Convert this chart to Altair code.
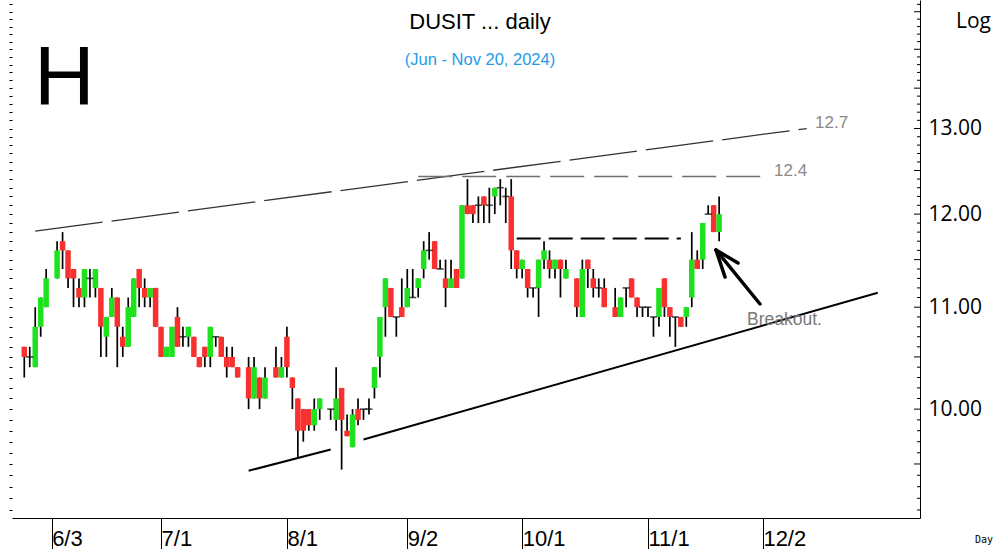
import altair as alt
import pandas as pd
import numpy as np

# ---------------- data ----------------
dates = ["2024-05-27","2024-05-28","2024-05-29","2024-05-30","2024-05-31",
         "2024-06-04","2024-06-05","2024-06-06","2024-06-07","2024-06-10","2024-06-11","2024-06-12","2024-06-13","2024-06-14",
         "2024-06-17","2024-06-18","2024-06-19","2024-06-20","2024-06-21","2024-06-24","2024-06-25","2024-06-26","2024-06-27","2024-06-28",
         "2024-07-01","2024-07-02","2024-07-03","2024-07-04","2024-07-05","2024-07-08","2024-07-09","2024-07-10","2024-07-11","2024-07-12",
         "2024-07-15","2024-07-16","2024-07-17","2024-07-18","2024-07-19","2024-07-23","2024-07-24","2024-07-25","2024-07-26",
         "2024-07-30","2024-07-31","2024-08-01","2024-08-02","2024-08-05","2024-08-06","2024-08-07","2024-08-08","2024-08-09",
         "2024-08-13","2024-08-14","2024-08-15","2024-08-16","2024-08-19","2024-08-20","2024-08-21","2024-08-22","2024-08-23",
         "2024-08-26","2024-08-27","2024-08-28","2024-08-29","2024-08-30","2024-09-02","2024-09-03","2024-09-04","2024-09-05","2024-09-06",
         "2024-09-09","2024-09-10","2024-09-11","2024-09-12","2024-09-13","2024-09-16","2024-09-17","2024-09-18","2024-09-19","2024-09-20",
         "2024-09-23","2024-09-24","2024-09-25","2024-09-26","2024-09-27","2024-09-30","2024-10-01","2024-10-02","2024-10-03","2024-10-04",
         "2024-10-07","2024-10-08","2024-10-09","2024-10-10","2024-10-11","2024-10-15","2024-10-16","2024-10-17","2024-10-18",
         "2024-10-21","2024-10-22","2024-10-24","2024-10-25","2024-10-28","2024-10-29","2024-10-30","2024-10-31","2024-11-01",
         "2024-11-04","2024-11-05","2024-11-06","2024-11-07","2024-11-08","2024-11-11","2024-11-12","2024-11-13","2024-11-14","2024-11-15",
         "2024-11-18","2024-11-19","2024-11-20"]

opens = [10.6,10.5,10.4,10.8,11.0,
         11.3,11.7,11.6,11.4,11.2,11.1,11.3,11.2,11.2,
         10.7,10.9,11.1,10.7,10.6,10.9,11.4,11.2,11.1,11.2,
         10.8,10.5,10.5,10.9,10.7,10.7,10.7,10.5,10.6,10.5,
         10.7,10.7,10.5,10.5,10.4,10.4,10.1,10.3,10.1,
         10.4,10.3,10.7,10.3,10.1,10.0,10.0,9.85,10.0,
         10.0,9.9,10.2,9.8,9.65,10.0,10.0,10.0,10.2,
         10.5,11.0,11.2,10.9,11.0,11.0,11.1,11.2,11.4,11.6,
         11.7,11.4,11.3,11.2,11.4,11.3,12.1,12.1,12.1,12.2,
         12.1,12.2,12.3,12.2,12.2,11.6,11.4,11.4,11.2,11.2,
         11.5,11.5,11.4,11.5,11.3,11.3,10.9,11.5,11.3,
         11.2,11.2,11.0,10.9,11.2,11.3,11.1,11.0,11.0,
         10.9,10.9,11.3,11.0,10.9,10.9,10.9,11.1,11.5,11.5,
         12.0,12.1,11.8]
highs = [10.6,10.6,11.0,11.1,11.4,
         11.7,11.8,11.6,11.4,11.3,11.4,11.4,11.4,11.2,
         10.9,11.2,11.1,10.8,11.1,11.3,11.4,11.3,11.2,11.2,
         10.8,10.6,10.8,11.0,10.8,10.8,10.7,10.5,10.6,10.8,
         10.7,10.7,10.6,10.6,10.4,10.5,10.5,10.3,10.4,
         10.6,10.5,10.8,10.3,10.1,10.0,10.0,10.1,10.1,
         10.0,10.4,10.2,9.95,10.0,10.1,10.0,10.1,10.4,
         10.9,11.3,11.2,10.9,11.3,11.4,11.4,11.3,11.7,11.8,
         11.7,11.5,11.5,11.5,11.4,12.1,12.4,12.1,12.2,12.2,
         12.3,12.3,12.4,12.3,12.4,11.6,11.5,11.4,11.2,11.5,
         11.7,11.6,11.5,11.5,11.5,11.3,11.5,11.5,11.4,
         11.3,11.3,11.2,11.1,11.2,11.3,11.1,11.0,11.0,
         10.9,11.2,11.3,11.0,10.9,10.9,11.0,11.8,11.6,11.9,
         12.1,12.1,12.2]
lows = [10.3,10.4,10.4,10.7,11.0,
        11.3,11.4,11.2,11.0,11.0,11.0,11.1,11.1,10.5,
        10.5,10.9,10.4,10.5,10.6,10.9,11.0,11.0,11.0,10.8,
        10.5,10.5,10.5,10.6,10.6,10.6,10.5,10.4,10.4,10.4,
        10.6,10.5,10.3,10.4,10.3,10.0,10.1,10.0,10.1,
        10.3,10.3,10.3,10.0,9.55,9.7,9.8,9.8,9.9,
        9.9,9.8,9.45,9.75,9.65,9.85,9.9,9.95,10.1,
        10.3,10.7,10.9,10.7,10.9,11.0,11.1,11.1,11.3,11.5,
        11.4,11.4,11.0,11.2,11.2,11.3,12.0,11.9,11.9,11.9,
        11.9,12.0,12.1,11.9,11.4,11.3,11.3,11.1,11.1,10.9,
        11.4,11.3,11.3,11.1,11.3,10.9,10.9,11.2,11.1,
        11.1,11.0,10.9,10.9,11.0,11.1,10.9,10.9,10.9,
        10.7,10.8,10.9,10.7,10.6,10.8,10.8,11.0,11.4,11.4,
        12.0,11.8,11.7]
closes = [10.5,10.5,10.8,11.1,11.3,
          11.6,11.6,11.3,11.3,11.1,11.4,11.3,11.4,10.8,
          10.9,11.1,10.8,10.6,11.0,11.3,11.2,11.1,11.2,10.8,
          10.5,10.6,10.8,10.6,10.7,10.8,10.5,10.4,10.5,10.8,
          10.7,10.5,10.4,10.4,10.3,10.1,10.4,10.1,10.3,
          10.3,10.4,10.4,10.2,9.8,9.8,9.85,10.0,10.1,
          10.0,10.1,9.9,9.75,9.95,9.9,10.0,10.0,10.4,
          10.9,11.3,10.9,10.9,10.9,11.2,11.1,11.3,11.6,11.6,
          11.4,11.4,11.2,11.3,11.2,12.1,12.0,12.0,12.1,12.1,
          12.1,12.3,12.3,12.2,11.6,11.4,11.5,11.2,11.2,11.5,
          11.6,11.4,11.5,11.4,11.4,11.0,11.4,11.4,11.2,
          11.2,11.0,10.9,11.1,11.2,11.1,11.0,11.0,11.0,
          10.9,11.2,11.0,10.9,10.9,10.8,11.0,11.5,11.4,11.9,
          12.0,11.8,12.0]

tick_dates = ["2024-06-03","2024-07-01","2024-08-01","2024-09-02","2024-10-01","2024-11-01","2024-12-02"]
tick_labels = ["6/3","7/1","8/1","9/2","10/1","11/1","12/2"]
price_labels = [10, 11, 12, 13]

# trend lines: (date, price) end points
upper_line_dates = ["2024-05-29", "2024-12-12"]
upper_line_prices = [11.81, 13.0]
flat_top_dates = ["2024-09-04", "2024-12-03"]
flat_top_prices = [12.43, 12.43]
neck_dates = ["2024-09-30", "2024-11-11"]
neck_prices = [11.73, 11.73]
low_line1_dates = ["2024-07-23", "2024-08-13"]
low_line1_prices = [9.44, 9.63]
low_line2_dates = ["2024-08-21", "2024-12-31"]
low_line2_prices = [9.72, 11.15]

# ---------------- derived tables ----------------
base = "2024-06-03"
def bidx(ds):
    return [int(np.busday_count(base, d)) if d >= base else -int(np.busday_count(d, base)) for d in ds]

df = pd.DataFrame({"date": dates, "i": bidx(dates), "open": opens, "high": highs,
                   "low": lows, "close": closes})
df["dir"] = np.where(df.close > df.open, "up", np.where(df.close < df.open, "down", "flat"))

tick_idx = bidx(tick_dates)
label_expr = " : ".join(f"datum.value == {v} ? ' {l}'" for v, l in zip(tick_idx, tick_labels)) + " : ''"

price_ticks = [round(9.1 + 0.1 * k, 1) for k in range(56)]
ticks_df = pd.DataFrame({"p": price_ticks})
ticks_df["major"] = [bool(abs(p * 2 - round(p * 2)) < 1e-6) for p in price_ticks]

W, H = 908, 518
xs = alt.Scale(domain=[-6.33, 157.8], nice=False, zero=False)
ys = alt.Scale(type="log", domain=[9.032, 14.66], nice=False, zero=False)

x_axis = alt.Axis(values=tick_idx, labelExpr=label_expr, grid=False, title=None,
                  tickSize=31, tickColor="black", domainColor="black",
                  labelAlign="left", labelBaseline="middle", labelPadding=-11,
                  labelFontSize=22, labelFont="Liberation Sans",
                  labelColor="black", labelBound=False, labelFlush=False,
                  labelOverlap=False)
X = alt.X("i:Q", scale=xs, axis=x_axis)

Yleft = alt.Y("low:Q", scale=ys,
              axis=alt.Axis(orient="left", values=price_ticks, labels=False, domain=False,
                            ticks=True, tickSize=3, tickColor="black", grid=False, title=None))

wick = alt.Chart(df).mark_rule(color="black", strokeWidth=1.7).encode(
    x=X, y=Yleft, y2="high:Q")

body = alt.Chart(df).transform_filter("datum.dir != 'flat'").mark_bar(width=5.5).encode(
    x=X,
    y=alt.Y("open:Q", scale=ys,
            axis=alt.Axis(orient="right", values=price_labels, format=".2f", grid=False,
                          title=None, ticks=False, domainColor="black", labelPadding=8,
                          labelFontSize=21, labelColor="black", labelFont="Open Sans")),
    y2="close:Q",
    color=alt.Color("dir:N", scale=alt.Scale(domain=["up", "down"], range=["#1DE21D", "#F83030"]),
                    legend=None))

doji = alt.Chart(df).transform_filter("datum.dir == 'flat'").mark_tick(
    color="black", thickness=1.6, size=7, orient="horizontal").encode(
    x=X, y=alt.Y("close:Q", scale=ys, axis=None))

rticks_minor = alt.Chart(ticks_df).transform_filter("!datum.major").mark_rule(
    color="black", strokeWidth=1).encode(
    y=alt.Y("p:Q", scale=ys, axis=None), x=alt.value(W - 3), x2=alt.value(W))
rticks_major = alt.Chart(ticks_df).transform_filter("datum.major").mark_rule(
    color="black", strokeWidth=1).encode(
    y=alt.Y("p:Q", scale=ys, axis=None), x=alt.value(W - 6), x2=alt.value(W))

def seg(ds, ps, **kw):
    d = pd.DataFrame({"i": bidx(ds), "p": ps})
    return alt.Chart(d).mark_line(**kw).encode(x=X, y=alt.Y("p:Q", scale=ys, axis=None))

upper = seg(upper_line_dates, upper_line_prices, color="#333333", strokeWidth=1.3, strokeDash=[68, 9])
flat = seg(flat_top_dates, flat_top_prices, color="#6e6e6e", strokeWidth=1.5, strokeDash=[34, 10])
neck = seg(neck_dates, neck_prices, color="black", strokeWidth=2, strokeDash=[24, 8])
low1 = seg(low_line1_dates, low_line1_prices, color="black", strokeWidth=2)
low2 = seg(low_line2_dates, low_line2_prices, color="black", strokeWidth=2)

def txt(s, x, y, size, color="black", font="Liberation Sans", align="left", baseline="middle"):
    return alt.Chart(pd.DataFrame({"t": [s]})).mark_text(
        align=align, baseline=baseline, fontSize=size, color=color, font=font).encode(
        text="t:N", x=alt.value(x), y=alt.value(y))

texts = [
    txt("DUSIT ... daily", 468, 22, 22, align="center"),
    txt("(Jun - Nov 20, 2024)", 468, 60, 16.5, color="#1E9BE9", align="center"),
    txt("H", 22, 105, 84, baseline="alphabetic"),
    txt("Log", 944, 22, 21, font="Open Sans"),
    txt("Day", 963, 540, 10, font="DejaVu Sans Mono"),
    txt("12.7", 803, 123, 17, color="#8a8a8a"),
    txt("12.4", 762, 171, 17, color="#8a8a8a"),
    txt("Breakout.", 735, 320, 17.5, color="#7a7a7a"),
]

def arrow_line(x1, y1, x2, y2):
    return alt.Chart(pd.DataFrame({"a": [0]})).mark_rule(
        color="black", strokeWidth=3.5, strokeCap="round").encode(
        x=alt.value(x1), y=alt.value(y1), x2=alt.value(x2), y2=alt.value(y2))

arrow = [arrow_line(704, 250, 748, 304), arrow_line(704, 250, 726, 263), arrow_line(704, 250, 713, 277)]

chart = alt.layer(wick, body, doji, rticks_minor, rticks_major, upper, flat, neck, low1, low2,
                  *arrow, *texts).resolve_scale(y="shared").properties(
    width=W, height=H,
    autosize=alt.AutoSizeParams(type="none"),
    padding={"left": 12, "top": 0, "right": 74, "bottom": 31},
    background="white"
).configure_view(stroke=None).configure_axis(labelFont="Liberation Sans")

chart.save("out.html", embed_options={"renderer": "svg", "actions": False})
